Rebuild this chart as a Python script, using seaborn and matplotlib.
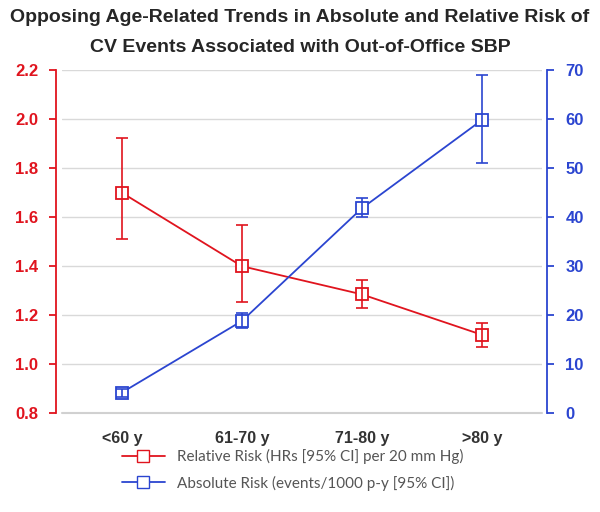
import numpy as np
import pandas as pd
import matplotlib
matplotlib.use("Agg")
import matplotlib.pyplot as plt
import seaborn as sns

AGE_GROUPS = ["<60 y", "61-70 y", "71-80 y", ">80 y"]

# relative risk (HR per 20 mm Hg) with 95% CI
rel_hr = [1.70, 1.40, 1.285, 1.12]
rel_lo = [1.51, 1.255, 1.23, 1.07]
rel_hi = [1.925, 1.57, 1.345, 1.17]

# absolute risk (events / 1000 p-y) with 95% CI
abs_rate = [4.2, 18.8, 41.8, 59.8]
abs_lo = [3.4, 17.4, 40.0, 51.0]
abs_hi = [5.0, 20.4, 44.0, 69.0]

RED = "#e0141e"
BLUE = "#2b45d0"

sns.set_theme(style="white")
plt.rcParams["font.family"] = ["Liberation Sans", "DejaVu Sans"]

df = pd.DataFrame({"age": AGE_GROUPS, "rel": rel_hr, "abs": abs_rate})
x = np.arange(len(AGE_GROUPS))

fig, ax = plt.subplots(figsize=(6.0, 5.12), dpi=100)
fig.subplots_adjust(left=0.103, right=0.903, top=0.863, bottom=0.193)
ax2 = ax.twinx()

# relative risk on left axis
sns.lineplot(data=df, x="age", y="rel", ax=ax, color=RED, lw=1.3, sort=False,
             marker="s", markersize=8, markerfacecolor="white",
             markeredgecolor=RED, markeredgewidth=1.3, label="_nolegend_")
ax.errorbar(x, rel_hr, yerr=[np.subtract(rel_hr, rel_lo), np.subtract(rel_hi, rel_hr)],
            fmt="none", ecolor=RED, elinewidth=1.2, capsize=4, capthick=1.2)

# absolute risk on right axis
sns.lineplot(data=df, x="age", y="abs", ax=ax2, color=BLUE, lw=1.3, sort=False,
             marker="s", markersize=8, markerfacecolor="white",
             markeredgecolor=BLUE, markeredgewidth=1.3, label="_nolegend_")
ax2.errorbar(x, abs_rate, yerr=[np.subtract(abs_rate, abs_lo), np.subtract(abs_hi, abs_rate)],
             fmt="none", ecolor=BLUE, elinewidth=1.2, capsize=4, capthick=1.2)

ax.set_xlim(-0.5, 3.5)
ax.set_ylim(0.8, 2.2)
ax.set_yticks(np.arange(0.8, 2.21, 0.2))
ax.set_yticklabels([f"{v:.1f}" for v in np.arange(0.8, 2.21, 0.2)])
ax2.set_ylim(0, 70)
ax2.set_yticks(range(0, 71, 10))

ax.grid(axis="y", color="#d9d9d9", lw=1)
ax.axhline(0.8, color="#d0d0d0", lw=1.5, clip_on=False, zorder=0)
ax.set_axisbelow(True)
ax.set_xlabel("")
ax.set_ylabel("")
ax2.set_ylabel("")

for a in (ax, ax2):
    a.spines["top"].set_visible(False)
    a.spines["bottom"].set_visible(False)
ax.spines["right"].set_visible(False)
ax2.spines["left"].set_visible(False)
ax.spines["left"].set_color(RED)
ax.spines["left"].set_linewidth(1.3)
ax2.spines["right"].set_color(BLUE)
ax2.spines["right"].set_linewidth(1.3)
ax.spines["left"].set_position(("outward", 4))
ax2.spines["right"].set_position(("outward", 4))

ax.tick_params(axis="y", colors=RED, length=5, width=1.3, direction="out", labelsize=12, pad=8)
ax2.tick_params(axis="y", colors=BLUE, length=5, width=1.3, direction="out", labelsize=12, pad=8)
ax.tick_params(axis="x", length=0, labelsize=11.5, labelcolor="#333333", pad=13)
for lab in ax.get_yticklabels():
    lab.set_fontweight("bold")
for lab in ax2.get_yticklabels():
    lab.set_fontweight("bold")
for lab in ax.get_xticklabels():
    lab.set_fontweight("bold")

fig.suptitle("Opposing Age-Related Trends in Absolute and Relative Risk of\n"
             "CV Events Associated with Out-of-Office SBP",
             fontsize=14, fontweight="bold", y=0.982, linespacing=1.95)

h1 = plt.Line2D([], [], color=RED, lw=1.3, marker="s", markersize=9,
                markerfacecolor="white", markeredgecolor=RED)
h2 = plt.Line2D([], [], color=BLUE, lw=1.3, marker="s", markersize=9,
                markerfacecolor="white", markeredgecolor=BLUE)
fig.legend([h1, h2],
           ["Relative Risk (HRs [95% CI] per 20 mm Hg)",
            "Absolute Risk (events/1000 p-y [95% CI])"],
           loc="center", bbox_to_anchor=(0.488, 0.082), frameon=False,
           prop={"family": ["Lato", "DejaVu Sans"], "size": 11},
           labelcolor="#555555", handlelength=2.8, labelspacing=0.75)

fig.savefig("out.png", dpi=100)
